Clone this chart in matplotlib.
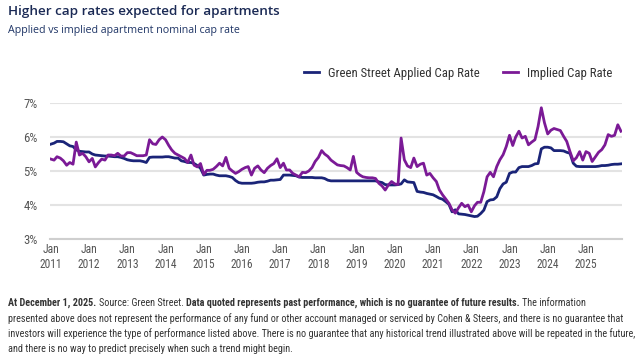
import matplotlib
matplotlib.use("Agg")
import matplotlib.pyplot as plt
from matplotlib import font_manager
import pandas as pd

# monthly values, Jan 2011 .. Dec 2025
applied = [
    5.79, 5.82, 5.87, 5.87, 5.86, 5.80, 5.74, 5.72, 5.62, 5.58, 5.57, 5.56,  # 2011
    5.56, 5.50, 5.47, 5.46, 5.45, 5.44, 5.44, 5.43, 5.42, 5.42, 5.40, 5.37,  # 2012
    5.33, 5.31, 5.30, 5.30, 5.30, 5.28, 5.25, 5.40, 5.41, 5.41, 5.41, 5.41,  # 2013
    5.42, 5.42, 5.40, 5.38, 5.38, 5.30, 5.28, 5.25, 5.25, 5.22, 5.16, 5.08,  # 2014
    4.88, 4.90, 4.91, 4.91, 4.88, 4.86, 4.86, 4.86, 4.84, 4.81, 4.72, 4.66,  # 2015
    4.64, 4.64, 4.64, 4.64, 4.65, 4.67, 4.68, 4.68, 4.70, 4.73, 4.73, 4.74,  # 2016
    4.75, 4.88, 4.88, 4.88, 4.87, 4.86, 4.82, 4.81, 4.81, 4.81, 4.81, 4.80,  # 2017
    4.80, 4.80, 4.78, 4.73, 4.71, 4.71, 4.71, 4.71, 4.71, 4.71, 4.71, 4.71,  # 2018
    4.71, 4.71, 4.71, 4.71, 4.71, 4.71, 4.71, 4.68, 4.66, 4.60, 4.59, 4.59,  # 2019
    4.59, 4.60, 4.62, 4.74, 4.68, 4.67, 4.66, 4.40, 4.38, 4.37, 4.34, 4.32,  # 2020
    4.30, 4.25, 4.20, 4.17, 4.10, 4.02, 3.80, 3.86, 3.74, 3.73, 3.72, 3.70,  # 2021
    3.68, 3.66, 3.67, 3.75, 3.85, 4.10, 4.15, 4.16, 4.24, 4.48, 4.62, 4.67,  # 2022
    4.93, 4.97, 4.97, 5.10, 5.13, 5.13, 5.13, 5.16, 5.21, 5.22, 5.65, 5.70,  # 2023
    5.70, 5.68, 5.60, 5.60, 5.60, 5.59, 5.55, 5.52, 5.23, 5.14, 5.13, 5.13,  # 2024
    5.13, 5.13, 5.13, 5.13, 5.14, 5.16, 5.16, 5.17, 5.19, 5.20, 5.20, 5.21,  # 2025
]
implied = [
    5.35, 5.32, 5.42, 5.38, 5.30, 5.17, 5.25, 5.20, 5.85, 5.47, 5.52, 5.42,  # 2011
    5.27, 5.37, 5.12, 5.25, 5.35, 5.32, 5.47, 5.47, 5.45, 5.52, 5.44, 5.44,  # 2012
    5.54, 5.54, 5.50, 5.45, 5.45, 5.45, 5.47, 5.92, 5.80, 5.78, 5.92, 6.00,  # 2013
    5.92, 5.75, 5.62, 5.52, 5.47, 5.42, 5.37, 5.25, 5.47, 5.17, 5.12, 5.22,  # 2014
    4.90, 5.02, 5.02, 5.05, 5.13, 5.23, 5.15, 5.40, 5.08, 5.00, 4.93, 4.98,  # 2015
    5.05, 5.10, 5.13, 4.88, 5.08, 5.15, 5.03, 4.95, 5.08, 5.16, 5.22, 5.36,  # 2016
    5.10, 5.23, 5.03, 5.03, 4.93, 4.88, 4.83, 4.96, 4.95, 5.00, 5.10, 5.28,  # 2017
    5.40, 5.60, 5.50, 5.43, 5.32, 5.25, 5.18, 5.16, 5.15, 5.10, 5.03, 5.43,  # 2018
    4.96, 4.88, 4.83, 4.81, 4.80, 4.80, 4.78, 4.64, 4.56, 4.44, 4.59, 4.69,  # 2019
    4.62, 4.60, 5.97, 5.33, 5.15, 5.10, 5.38, 5.13, 5.20, 5.23, 4.88, 4.93,  # 2020
    4.80, 4.69, 4.45, 4.30, 4.18, 4.05, 3.86, 3.76, 3.92, 4.05, 3.95, 4.00,  # 2021
    3.80, 3.98, 4.08, 4.08, 4.39, 4.83, 4.96, 4.83, 5.13, 5.33, 5.48, 5.72,  # 2022
    6.05, 5.75, 6.00, 6.17, 5.97, 6.02, 5.77, 5.85, 5.92, 6.31, 6.86, 6.42,  # 2023
    6.09, 6.20, 6.25, 6.22, 6.19, 6.02, 5.87, 5.57, 5.30, 5.39, 5.57, 5.32,  # 2024
    5.57, 5.52, 5.28, 5.42, 5.55, 5.63, 5.77, 6.07, 6.02, 6.05, 6.36, 6.17,  # 2025
]
dates = pd.date_range("2011-01-01", periods=len(applied), freq="MS")
years = list(range(2011, 2026))
y_ticks = [3, 4, 5, 6, 7]

title = "Higher cap rates expected for apartments"
subtitle = "Applied vs implied apartment nominal cap rate"
label_applied = "Green Street Applied Cap Rate"
label_implied = "Implied Cap Rate"

NAVY = "#1a2478"
PURPLE = "#7b1a96"

# find a condensed face if one is there
fonts = font_manager.fontManager.ttflist
names = {f.name for f in fonts}
narrow = None
for name in ["Liberation Sans Narrow", "Roboto Condensed", "Open Sans Condensed",
             "DejaVu Sans Condensed", "Noto Sans Condensed"]:
    if name in names:
        narrow = dict(family=name)
        break
if narrow is None:
    for name in ["DejaVu Sans", "Noto Sans", "Open Sans", "Roboto"]:
        if any(f.name == name and f.stretch in ("condensed", 300, "semi-condensed") for f in fonts):
            narrow = dict(family=name, stretch="condensed")
            break
if narrow is None:
    narrow = dict(family="Roboto" if "Roboto" in names else "DejaVu Sans")
head = "Open Sans" if "Open Sans" in names else "DejaVu Sans"

fig = plt.figure(figsize=(6.4, 3.62), dpi=100)
fig.canvas.draw()
renderer = fig.canvas.get_renderer()


def width_of(s, size, bold=False):
    t = fig.text(0, 0, s, fontsize=size, fontweight="bold" if bold else "normal", **narrow)
    w = t.get_window_extent(renderer).width
    t.remove()
    return w


# sizes fitted to the widths seen in the reference
tick_size = 8.0 * 23.0 / width_of("2011", 8.0)
leg_size = 8.0 * 152.0 / width_of(label_applied, 8.0)
fsize = 7.0 * 624.0 / width_of(
    "investors will experience the type of performance listed above. There is no guarantee "
    "that any historical trend illustrated above will be repeated in the future,", 7.0)

ax = fig.add_axes([50 / 640, 1 - 239 / 362, 572 / 640, 136 / 362])

ax.plot(dates, applied, color=NAVY, lw=2.0, label=label_applied, zorder=3)
ax.plot(dates, implied, color=PURPLE, lw=2.0, label=label_implied, zorder=3)

ax.set_ylim(3, 7)
ax.set_yticks(y_ticks)
ax.set_yticklabels([f"{v}%" for v in y_ticks])
ax.set_xlim(dates[0] - pd.Timedelta(days=8), dates[-1] + pd.Timedelta(days=10))
ax.set_xticks([pd.Timestamp(f"{y}-01-01") for y in years])
ax.set_xticklabels([f"Jan\n{y}" for y in years])

ax.grid(axis="y", color="#e3e3e3", lw=1.5, zorder=0)
ax.grid(axis="x", visible=False)
for s in ["top", "right", "left"]:
    ax.spines[s].set_visible(False)
ax.spines["bottom"].set_color("#cfcfcf")
ax.spines["bottom"].set_linewidth(1.5)
ax.tick_params(length=0, labelcolor="#555555", pad=3)
ax.tick_params(axis="y", pad=9)
for lab in ax.get_xticklabels() + ax.get_yticklabels():
    lab.set_fontproperties(font_manager.FontProperties(size=tick_size, **narrow))
for lab in ax.get_yticklabels():
    lab.set_fontsize(tick_size * 1.1)

fig.text(8 / 640, 1 - 12 / 362, title, fontsize=9.7, fontweight="semibold",
         family=head, color="#1b2a55", va="center")
fig.text(8 / 640, 1 - 31 / 362, subtitle, fontsize=7.7,
         family=head, color="#1f3566", va="center")

leg = fig.legend(loc="center right", bbox_to_anchor=(624 / 640, 1 - 73 / 362),
                 ncol=2, frameon=False, handlelength=1.2, handletextpad=0.7,
                 columnspacing=1.8,
                 prop=font_manager.FontProperties(size=leg_size, **narrow))
for t in leg.get_texts():
    t.set_color("#333333")

# footnote with bold runs
foot = [
    [("At December 1, 2025.", True), ("Source: Green Street.", False),
     ("Data quoted represents past performance, which is no guarantee of future results.", True),
     ("The information", False)],
    [("presented above does not represent the performance of any fund or other account "
      "managed or serviced by Cohen & Steers, and there is no guarantee that", False)],
    [("investors will experience the type of performance listed above. There is no guarantee "
      "that any historical trend illustrated above will be repeated in the future,", False)],
    [("and there is no way to predict precisely when such a trend might begin.", False)],
]
W = fig.bbox.width
space = width_of("a a", fsize) - width_of("aa", fsize)
for i, line in enumerate(foot):
    x = 8.0
    y = 1 - (303 + i * 15.5) / 362
    for s, bold in line:
        t = fig.text(x / W, y, s, fontsize=fsize, color="#333333",
                     fontweight="bold" if bold else "normal", va="center", **narrow)
        x += t.get_window_extent(renderer).width + space

fig.savefig("out.png", dpi=100)
